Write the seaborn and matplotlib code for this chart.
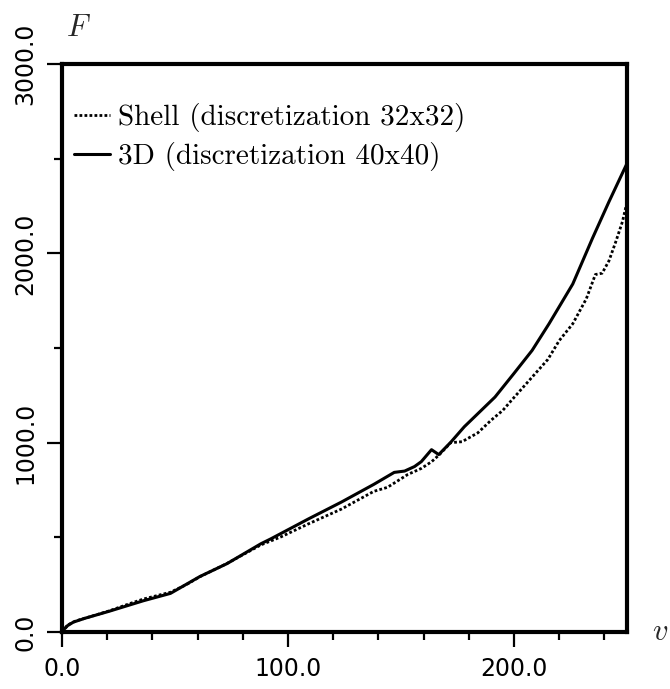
import numpy as np
import pandas as pd
import matplotlib
matplotlib.use("Agg")
import matplotlib.pyplot as plt
import seaborn as sns
from matplotlib.ticker import MultipleLocator, FormatStrFormatter

# ---- data ----
shell_v = [0, 3, 6, 15, 21, 30, 36, 42, 48, 55, 61, 73, 88, 97, 109, 123.6, 138, 144,
           153, 159, 163.6, 167, 172, 177, 184, 190, 195, 199, 208, 215, 220, 226, 232,
           236, 239, 242, 245, 248, 250]
shell_F = [0, 40, 58, 90, 112, 150, 174, 192, 210, 250, 292, 362, 460, 503, 571, 649, 743, 764,
           832, 864, 900, 937, 1000, 1005, 1052, 1120, 1170, 1225, 1346, 1440, 1539, 1628, 1760,
           1888, 1895, 1960, 2060, 2168, 2270]

solid_v = [0, 2, 5, 10, 21, 36, 48, 61, 73, 88, 92.4, 109, 123.6, 138, 147, 151.6, 156, 159,
           163.5, 166.7, 172, 178, 191.6, 200, 208, 215.5, 226, 234.7, 242, 250]
solid_F = [0, 30, 52, 72, 110, 165, 204, 293, 361, 466, 492, 597, 686, 780, 843, 850, 874, 900,
           963, 937, 1002, 1084, 1241, 1366, 1487, 1628, 1838, 2079, 2272, 2475]

labels = ["Shell (discretization 32x32)", "3D (discretization 40x40)"]
x_label = "$v$"
y_label = "$F$"

sns.set_theme(style="ticks")
plt.rcParams["mathtext.fontset"] = "cm"

fig = plt.figure(figsize=(6.7, 6.89), dpi=100)
ax = fig.add_axes([62 / 670, (689 - 632) / 689, (627 - 62) / 670, (632 - 64) / 689])

sns.lineplot(x=shell_v, y=shell_F, ax=ax, color="black", linestyle=(0, (1, 0.8)),
             linewidth=2.0, label=labels[0], sort=False)
sns.lineplot(x=solid_v, y=solid_F, ax=ax, color="black", linestyle="-",
             linewidth=2.2, label=labels[1], sort=False)

ax.set_xlim(0, 250)
ax.set_ylim(0, 3000)
ax.xaxis.set_major_locator(MultipleLocator(100))
ax.xaxis.set_minor_locator(MultipleLocator(20))
ax.yaxis.set_major_locator(MultipleLocator(1000))
ax.yaxis.set_minor_locator(MultipleLocator(500))
ax.xaxis.set_major_formatter(FormatStrFormatter("%.1f"))
ax.yaxis.set_major_formatter(FormatStrFormatter("%.1f"))

for s in ax.spines.values():
    s.set_linewidth(3.0)
    s.set_color("black")

ax.tick_params(which="major", direction="out", length=11, width=1.6, color="black",
               labelsize=17, labelcolor="black", pad=7)
ax.tick_params(which="minor", direction="out", length=6, width=1.6, color="black")
ax.tick_params(axis="y", which="both", right=False)
ax.tick_params(axis="x", which="both", top=False)
for lab in ax.get_yticklabels():
    lab.set_rotation(90)
    lab.set_va("center")
    lab.set_ha("right")
ax.set_xlabel("")
ax.set_ylabel("")

fig.text(78 / 670, 1 - 28 / 689, y_label, fontsize=22, ha="center", va="center")
fig.text(660 / 670, 1 - 632 / 689, x_label, fontsize=22, ha="center", va="center")

leg = ax.legend(loc="upper left", bbox_to_anchor=(0.006, 0.946), frameon=False,
                prop={"family": "cmr10", "size": 21}, handlelength=1.24,
                handletextpad=0.28, labelspacing=0.34, borderaxespad=0.0,
                borderpad=0.3)
for t in leg.get_texts():
    t.set_color("black")

fig.savefig("out.png", dpi=100, facecolor="white")
